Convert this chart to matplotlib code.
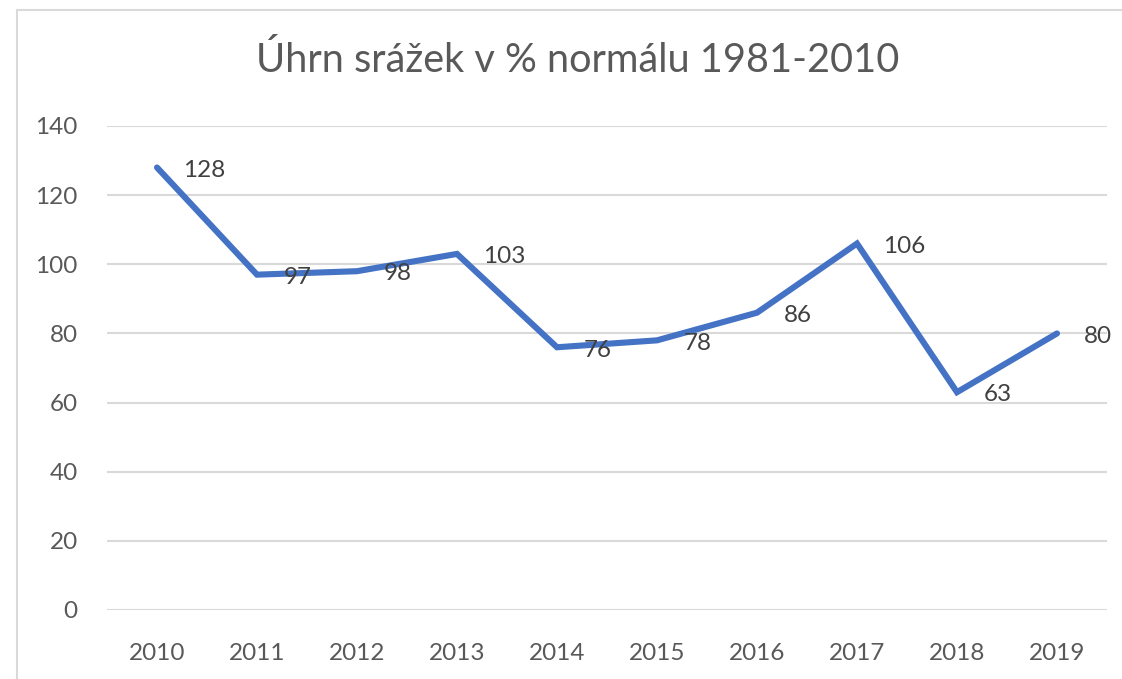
import matplotlib
matplotlib.use("Agg")
import matplotlib.pyplot as plt
from matplotlib.patches import Rectangle

# data
years = ["2010", "2011", "2012", "2013", "2014", "2015", "2016", "2017", "2018", "2019"]
values = [128, 97, 98, 103, 76, 78, 86, 106, 63, 80]
yticks = [0, 20, 40, 60, 80, 100, 120, 140]
title = "Úhrn srážek v % normálu 1981-2010"

plt.rcParams['font.family'] = ['Lato', 'DejaVu Sans']

fig = plt.figure(figsize=(11.22, 6.79), dpi=100)
ax = fig.add_axes([107/1122, 69/679, 1000/1122, 484/679])

x = list(range(len(years)))
ax.plot(x, values, color="#4472C4", lw=4.4, solid_capstyle="round", solid_joinstyle="miter", zorder=3)

for xi, v in zip(x, values):
    ax.annotate(str(v), (xi, v), xytext=(19, -2), textcoords="offset points",
                ha="left", va="center", fontsize=17.5, color="#404040", zorder=4)

ax.set_xlim(-0.5, len(years) - 0.5)
ax.set_ylim(0, 140)
ax.set_xticks(x)
ax.set_xticklabels(years)
ax.set_yticks(yticks)
ax.tick_params(axis="both", length=0, labelsize=17.5, labelcolor="#595959")
ax.tick_params(axis="y", pad=21)
ax.tick_params(axis="x", pad=24)
ax.grid(axis="y", color="#D9D9D9", lw=1.5)
ax.set_axisbelow(True)
for s in ax.spines.values():
    s.set_visible(False)

fig.text(578/1122, 1 - 60/679, title, ha="center", va="center", fontsize=28.6, color="#595959")

# chart area border
fig.patches.append(Rectangle((17/1122, -0.1), 1.2, 1 - 10/679 + 0.1, transform=fig.transFigure,
                             fill=False, edgecolor="#D9D9D9", lw=1.5))

fig.savefig("out.png", dpi=100)
